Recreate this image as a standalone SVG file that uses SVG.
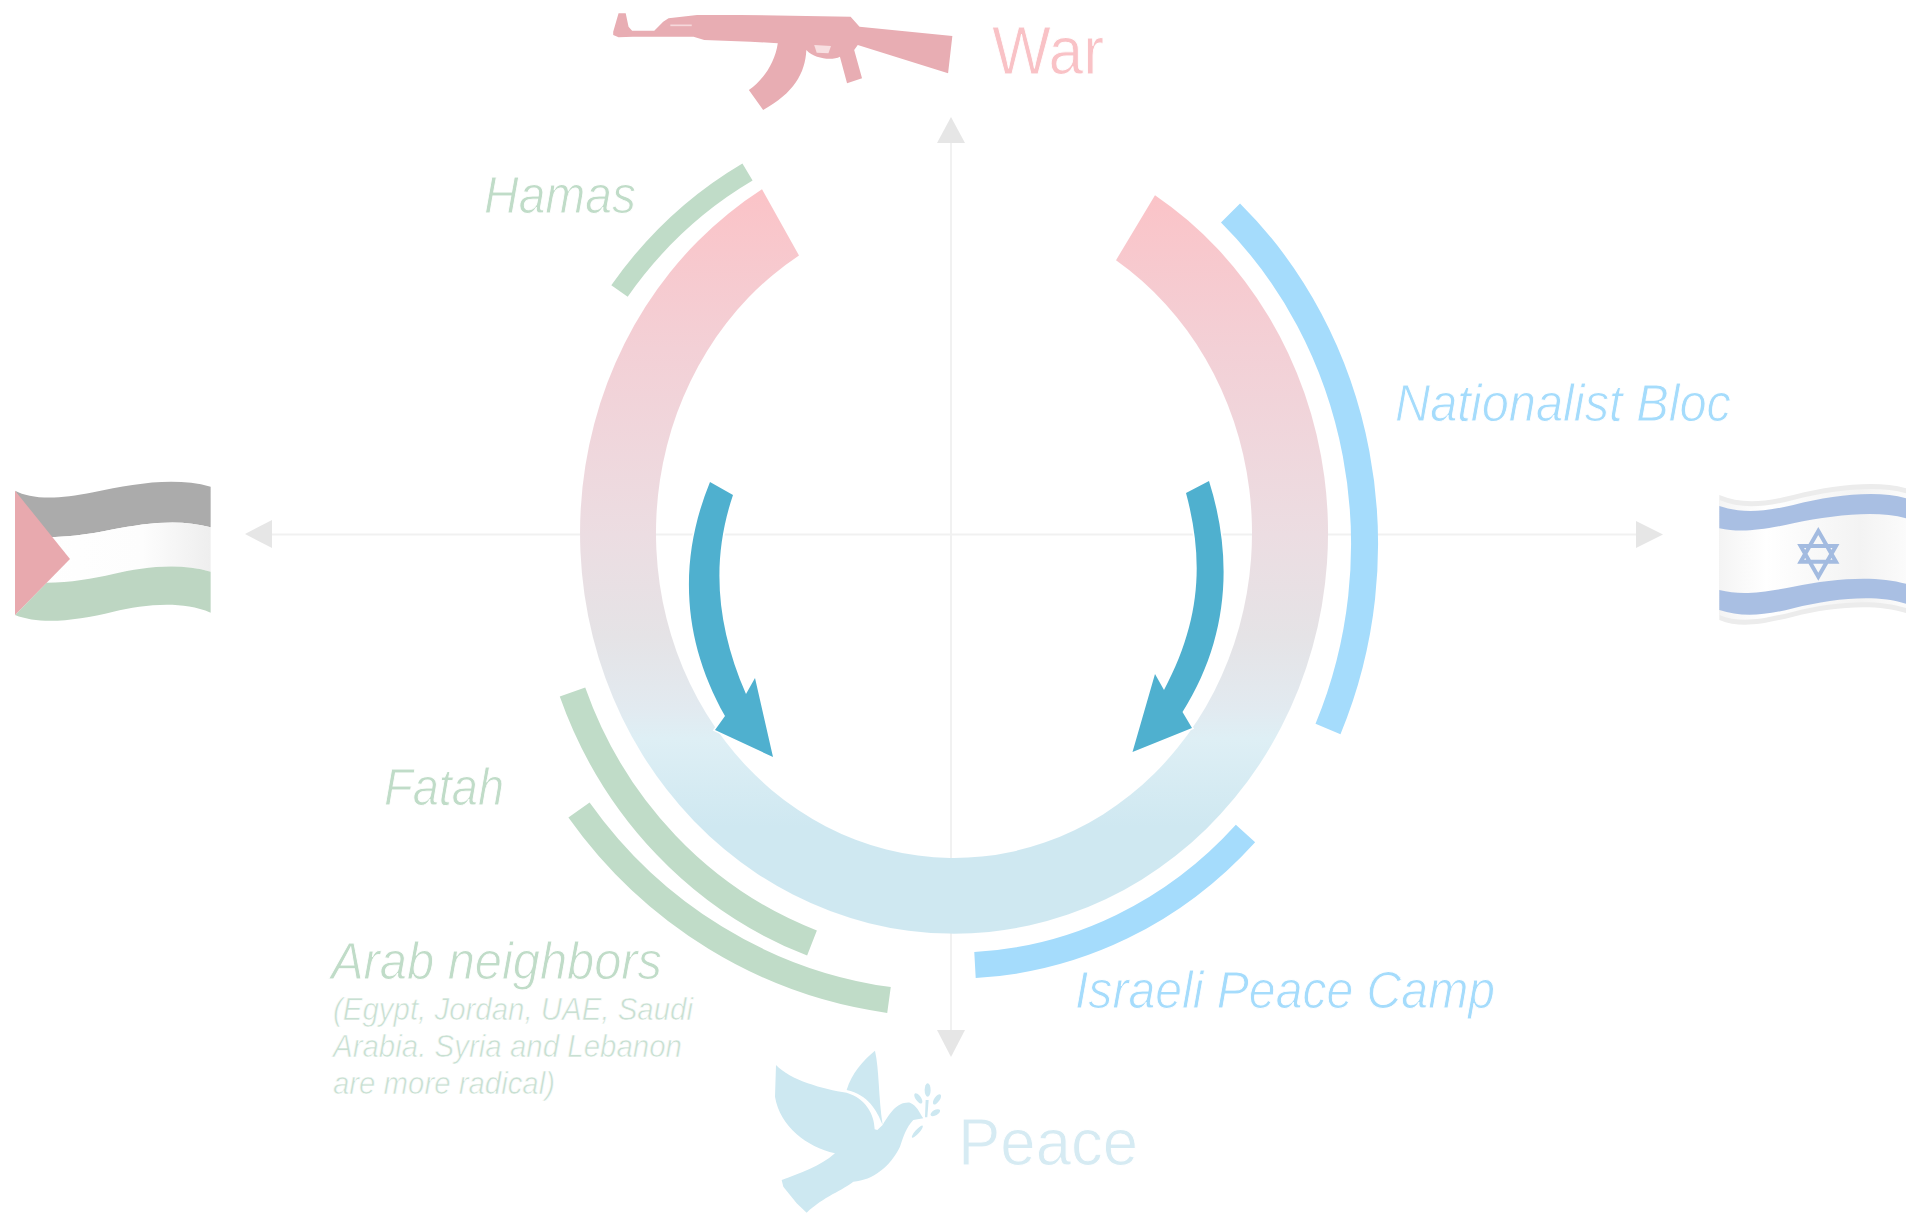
<svg xmlns="http://www.w3.org/2000/svg" width="1906" height="1213" viewBox="0 0 1906 1213">
<style>
.axis{stroke:#f1f1f1;stroke-width:2;fill:none}
.head{fill:#e6e6e6}
.g{fill:none;stroke:#c0dcc8;stroke-linecap:butt}
.b{fill:none;stroke:#a5dcfc;stroke-linecap:butt}
.arrow{fill:#4fb0cf;stroke:#fff;stroke-width:3;paint-order:stroke}
text{font-family:"Liberation Sans",Arial,sans-serif;stroke:#fff;stroke-width:.9px}
.lab{font-style:italic;font-size:51px}
.sub{font-style:italic;font-size:31px;fill:#c8e0d2;stroke-width:.6px}
.gt{fill:#c0dcc8}
.bt{fill:#a5dcfc}
</style>
<defs>
<linearGradient id="ringGrad" gradientUnits="userSpaceOnUse" x1="0" y1="188" x2="0" y2="860">
<stop offset="0" stop-color="#fbc3c7"/>
<stop offset="0.24" stop-color="#f3d0d6"/>
<stop offset="0.516" stop-color="#ecdde2"/>
<stop offset="0.667" stop-color="#e5e3e6"/>
<stop offset="0.774" stop-color="#e2eaf0"/>
<stop offset="0.82" stop-color="#deeff5"/>
<stop offset="0.95" stop-color="#cfe8f1"/>
</linearGradient>
<linearGradient id="flagWhite" gradientUnits="userSpaceOnUse" x1="298" y1="0" x2="860" y2="0">
<stop offset="0" stop-color="#f4f4f4"/><stop offset=".25" stop-color="#ffffff"/><stop offset=".75" stop-color="#f3f3f3"/><stop offset="1" stop-color="#fbfbfb"/>
</linearGradient>
<linearGradient id="palWhite" gradientUnits="userSpaceOnUse" x1="45" y1="0" x2="632" y2="0">
<stop offset="0" stop-color="#ffffff"/><stop offset=".65" stop-color="#fdfdfd"/><stop offset="1" stop-color="#eeeeee"/>
</linearGradient>
</defs>
<rect width="1906" height="1213" fill="#ffffff"/>
<g id="connectors">
<path class="axis" d="M951 130V1045M260 534.500H1650"/>
<path class="head" d="M951 117L965 143H937Z"/>
<path class="head" d="M951 1057L937 1030H965Z"/>
<path class="head" d="M245 534L272 520V548Z"/>
<path class="head" d="M1663 534.500L1636 521V548Z"/>
</g>
<g id="ring"><path fill="url(#ringGrad)" d="M762 189.300A374 400.600 0 1 0 1155 195.200L1116 260.200A298 325 0 1 1 799 255.400Z"/></g>
<g id="arrow-left"><path class="arrow" d="M710 482L733 495C711 560 716 625 746 694L755 678L773 757L715 730L725 716C682 640 678 560 710 482Z"/></g>
<g id="arrow-right"><path class="arrow" d="M1186 493L1209 481C1234 560 1228 640 1182.500 712L1192 728L1132.500 752L1155 674L1164 690C1201 620 1204 560 1186 493Z"/></g>
<g id="hamas"><path class="g" stroke-width="20" d="M747.500 172A405 425 0 0 0 619.500 291"/><text class="lab gt" x="484" y="213" textLength="152" lengthAdjust="spacingAndGlyphs">Hamas</text></g>
<g id="fatah"><path class="g" stroke-width="27" d="M572.500 692A405 425 0 0 0 812 943"/><text class="lab gt" x="384" y="805" textLength="120" lengthAdjust="spacingAndGlyphs">Fatah</text></g>
<g id="arab-neighbors"><path class="g" stroke-width="26" d="M579 810A460 475 0 0 0 889 1000"/>
<text class="lab gt" x="331" y="979" textLength="331" lengthAdjust="spacingAndGlyphs">Arab neighbors</text>
<text class="sub" x="333" y="1020" textLength="360" lengthAdjust="spacingAndGlyphs">(Egypt, Jordan, UAE, Saudi</text>
<text class="sub" x="333" y="1057" textLength="349" lengthAdjust="spacingAndGlyphs">Arabia. Syria and Lebanon</text>
<text class="sub" x="333" y="1094" textLength="222" lengthAdjust="spacingAndGlyphs">are more radical)</text></g>
<g id="nationalist-bloc"><path class="b" stroke-width="27" d="M1230.500 213A410.500 448 0 0 1 1328 729"/><text class="lab bt" x="1395" y="421" textLength="336" lengthAdjust="spacingAndGlyphs">Nationalist Bloc</text></g>
<g id="israeli-peace-camp"><path class="b" stroke-width="26" d="M1245.500 833.500A405 432 0 0 1 975 965"/><text class="lab bt" x="1075" y="1008" textLength="420" lengthAdjust="spacingAndGlyphs">Israeli Peace Camp</text></g>
<g id="war">
<g transform="translate(590 0) scale(.357 .3333)"><path fill="#e8adb3" d="M65 95L80 40H100L108 80L118 92L180 92L205 65L220 55L300 45L420 45L730 50L755 80L1015 108L1003 220L750 135L740 150L762 235L720 250L700 170C680 182 630 178 606 150C603 220 570 280 485 330L445 270C485 240 518 190 526 130L450 125L320 120L290 110L120 110L80 112L65 105Z"/><path fill="#f8dfe1" d="M628 135L675 138L668 160L635 158Z"/><path fill="none" stroke="#f6d8db" stroke-width="5" d="M225 76H285"/></g>
<text x="992" y="74" font-size="68" fill="#f9c2c6" textLength="112" lengthAdjust="spacingAndGlyphs">War</text></g>
<g id="peace">
<g transform="translate(740 1030) scale(.3333)" fill="#cde8f1"><path d="M108 105C150 150 250 178 320 188C375 205 403 250 404 298L412 300L428 285C450 250 470 215 510 218C530 225 540 250 550 265L520 270C500 290 490 320 480 350C450 410 400 450 340 455C310 480 250 500 200 548L170 520L150 495L130 470L125 450C180 430 240 410 285 370C200 350 120 290 105 200Z"/><path d="M405 62C418 120 415 200 428 285C410 240 385 195 320 180C335 130 370 90 405 62Z"/><ellipse cx="563" cy="180" rx="9" ry="20"/><ellipse cx="535" cy="205" rx="8" ry="18" transform="rotate(-35 535 205)"/><ellipse cx="591" cy="208" rx="8" ry="18" transform="rotate(35 591 208)"/><ellipse cx="586" cy="248" rx="8" ry="16" transform="rotate(60 586 248)"/><ellipse cx="532" cy="305" rx="6" ry="24" transform="rotate(42 532 305)"/><path d="M557 210H566L562 262H555Z"/></g>
<text x="958" y="1165" font-size="67" fill="#d6ebf3" textLength="180" lengthAdjust="spacingAndGlyphs">Peace</text></g>
<g id="palestine-flag" transform="translate(0 460) scale(.3333)">
<path fill="#ababab" d="M45 92C90 115 160 122 280 97C400 72 520 50 632 80V202C540 175 430 190 340 208C260 225 190 232 130 232Z"/>
<path fill="url(#palWhite)" d="M130 232C190 232 260 225 340 208C430 190 540 175 632 202V335C540 308 430 320 340 342C280 356 210 368 140 368L210 297Z"/>
<path fill="#bdd6c2" d="M140 368C210 368 280 356 340 342C430 320 540 308 632 335V458C540 420 430 435 340 455C230 482 120 495 45 465Z"/>
<path fill="#e8a9ae" d="M45 92L210 297L45 465Z"/></g>
<g id="israel-flag" transform="translate(1620 460) scale(.3333)">
<path fill="#ececec" d="M298 105C360 130 420 130 520 105C640 75 770 60 860 85V460C770 430 640 440 520 470C420 495 360 505 298 480Z"/>
<path fill="url(#flagWhite)" d="M298 120C360 145 420 145 520 120C640 90 770 75 860 100V445C770 415 640 425 520 455C420 480 360 490 298 465Z"/>
<path fill="#a9bfe3" d="M298 138C360 158 420 158 520 135C640 105 770 90 860 115V175C770 150 640 165 520 190C420 212 360 218 298 205Z"/>
<path fill="#a9bfe3" d="M298 390C360 405 420 400 520 380C640 355 770 345 860 372V432C770 402 640 415 520 445C420 470 360 470 298 450Z"/>
<path fill="none" stroke="#a3bbe0" stroke-width="12" d="M595 213L648 305H542ZM595 350L542 258H648Z"/></g>
</svg>
